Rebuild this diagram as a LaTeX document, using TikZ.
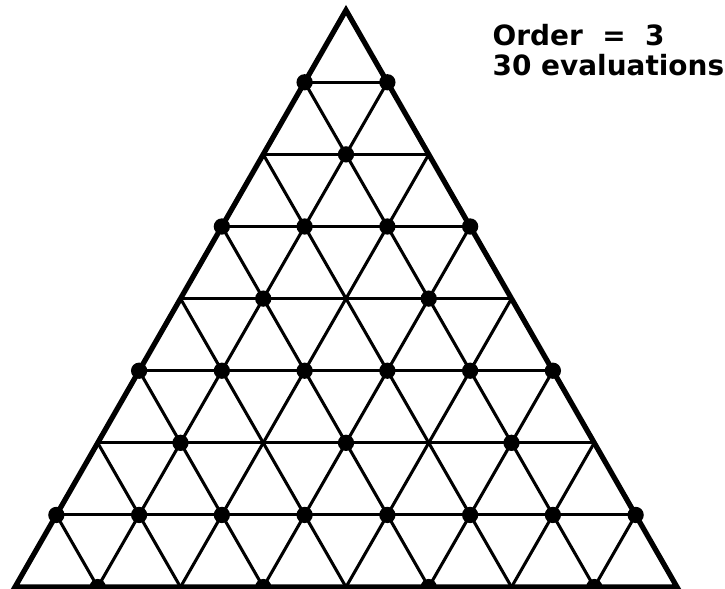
\documentclass[tikz,border=0pt]{standalone}
\usepackage{fontspec}
\newfontfamily\plotfont{DejaVu Sans}
\usetikzlibrary{positioning}

\begin{document}
\begin{tikzpicture}[
    gridline/.style={black, line width=1.05pt},
    outline/.style={black, line width=1.8pt, line join=miter},
    evalpt/.style={circle, fill=black, inner sep=0pt, minimum size=5.6pt},
    caption/.style={font=\plotfont\bfseries\fontsize{9.6}{11}\selectfont, anchor=base west, inner sep=0pt}]
    \useasboundingbox (-0.181,-0.012) rectangle (8.580,7.094);
    \def\rowh{0.8714}

    % lattice points: row r counted from the apex, j along the row
    \foreach \r in {0,...,8}
        \foreach \j in {0,...,\r}
            \coordinate (p-\r-\j) at ({4+\j-\r/2},{(8-\r)*\rowh});

    % inner grid lines
    \foreach \k in {1,...,7} {
        \pgfmathtruncatemacro{\m}{8-\k}
        \draw[gridline] (p-\k-0) -- (p-\k-\k);
        \draw[gridline] (p-\k-\k) -- (p-8-\k);
        \draw[gridline] (p-\k-0) -- (p-8-\m);
    }

    % outer triangle
    \draw[outline] (p-0-0) -- (p-8-0) -- (p-8-8) -- cycle;

    % evaluation points
    \foreach \pt in {1-0,1-1,2-1,3-0,3-1,3-2,3-3,4-1,4-3,
                     5-0,5-1,5-2,5-3,5-4,5-5,6-1,6-3,6-5,
                     7-0,7-1,7-2,7-3,7-4,7-5,7-6,7-7,8-1,8-3,8-5,8-7}
        \node[evalpt] (e-\pt) at (p-\pt) {};

    % labels
    \node[caption] (order) at (5.765,6.550) {Order\ \ =\ \ 3};
    \node[caption] (count) at (5.765,6.180) {30 evaluations};
\end{tikzpicture}
\end{document}
